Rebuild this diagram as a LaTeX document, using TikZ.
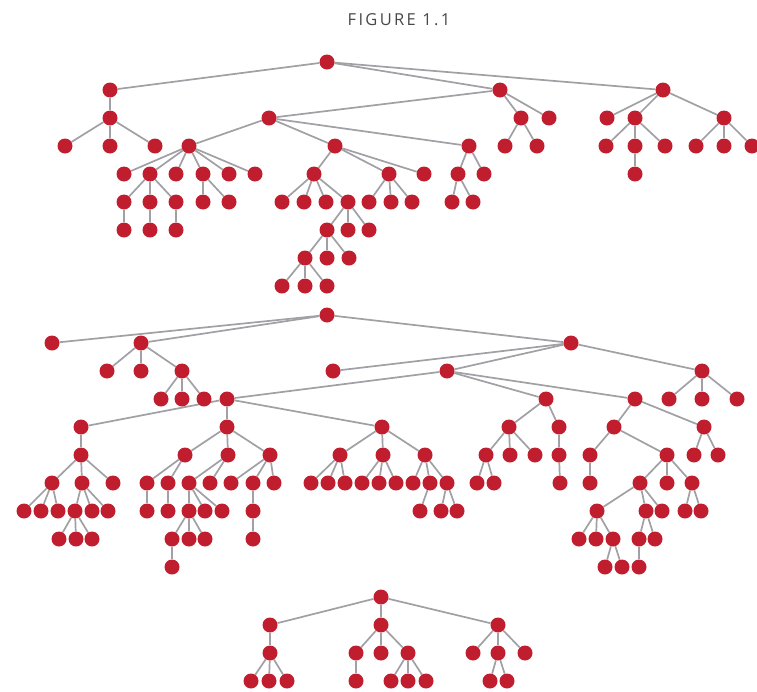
\documentclass[tikz,border=0pt]{standalone}
\usepackage{fontspec}
\newfontfamily\titlefont[LetterSpace=14]{Open Sans}
\usetikzlibrary{backgrounds}
\definecolor{dotred}{RGB}{192,30,46}
\definecolor{edgegray}{RGB}{160,160,165}
\definecolor{titlegray}{RGB}{72,72,72}
\tikzset{
  dot/.style={circle,fill=dotred,draw=none,inner sep=0pt,minimum size=15pt},
  edge/.style={draw=edgegray,line width=1.7pt},
  titlestyle/.style={font=\titlefont\fontsize{16.5}{19}\selectfont,text=titlegray,inner sep=0pt}
}
\begin{document}
\begin{tikzpicture}[x=1pt,y=-1pt]
\useasboundingbox (0,0) rectangle (757,691);
\node[titlestyle] (title) at (399,19.5) {FIGURE 1.1};
% ---------- tree 1 ----------
\foreach \n/\x/\y in {
 tr/327/62,
 ta/110/90, tb/500/90, tc/663/90,
 ta1/110/118, td/269/118, tb1/521/118, tb2/549/118, tc1/607/118, tc2/635/118, tc3/724/118,
 ta11/65/146, ta12/110/146, ta13/155/146, td1/189/146, td2/335/146, td3/469/146,
 tb11/505/146, tb12/537/146, tc21/606/146, tc22/635/146, tc23/665/146,
 tc31/696/146, tc32/724/146, tc33/752/146,
 td11/124/174, td12/150/174, td13/176/174, td14/203/174, td15/229/174, td16/255/174,
 td21/314/174, td22/389/174, td23/424/174, td31/458/174, td32/484/174, tc221/635/174,
 td121/124/202, td122/150/202, td123/176/202, td141/203/202, td142/229/202,
 td211/282/202, td212/304/202, td213/326/202, td214/348/202,
 td221/369/202, td222/391/202, td223/412/202, td311/452/202, td312/473/202,
 td1211/124/230, td1221/150/230, td1231/176/230,
 td2141/327/230, td2142/348/230, td2143/369/230,
 te1/305/258, te2/327/258, te3/349/258,
 te11/282/286, te12/305/286, te13/327/286}
  \node[dot] (\n) at (\x,\y) {};
% ---------- tree 2 ----------
\foreach \n/\x/\y in {
 us/327/315,
 us1/52/343, us2/141/343, us3/571/343,
 us21/107/371, us22/141/371, us23/182/371, us31/333/371, us32/447/371, us33/702/371,
 us231/161/399, us232/182/399, us233/204/399, uf/227/399, ug/546/399, uh/635/399,
 us331/669/399, us332/702/399, us333/737/399,
 uf1/81/427, uf2/227/427, uf3/382/427, ug1/509/427, ug2/559/427, uh1/614/427, uh2/704/427,
 uf11/81/455, uf21/185/455, uf22/228/455, uf23/270/455, uf31/340/455, uf32/383/455, uf33/425/455,
 ug11/486/455, ug12/510/455, ug13/535/455, ug21/559/455, uh11/590/455, uh12/667/455,
 uh21/694/455, uh22/718/455,
 uf111/52/483, uf112/82/483, uf113/113/483, uf211/147/483, uf212/168/483,
 uf221/189/483, uf222/210/483, uf231/231/483, uf232/253/483, uf233/274/483,
 uf311/311/483, uf312/328/483, uf313/345/483, uf321/362/483, uf322/379/483, uf323/396/483,
 uf331/413/483, uf332/430/483, uf333/447/483, ug111/477/483, ug112/494/483, ug211/560/483,
 uh111/590/483, uh121/640/483, uh122/667/483, uh123/692/483,
 uf1111/24/511, uf1112/41/511, uf1113/58/511, uf1121/75/511, uf1122/92/511, uf1123/108/511,
 uf2111/147/511, uf2121/168/511, uf2211/189/511, uf2212/205/511, uf2213/222/511,
 uf2321/253/511, uf3321/420/511, uf3331/441/511, uf3332/457/511,
 uh1211/597/511, uh1212/646/511, uh1213/662/511, uh1231/685/511, uh1232/701/511,
 uk1/59/539, uk2/76/539, uk3/92/539, um1/172/539, um2/189/539, um3/205/539,
 uf23211/253/539, up1/579/539, up2/596/539, up3/613/539, uq1/639/539, uq2/655/539,
 um11/172/567, up31/605/567, up32/622/567, uq11/639/567}
  \node[dot] (\n) at (\x,\y) {};
% ---------- tree 3 ----------
\foreach \n/\x/\y in {
 vr/381/597,
 v1/270/625, v2/381/625, v3/498/625,
 v11/270/653, v21/356/653, v22/381/653, v23/408/653, v31/473/653, v32/498/653, v33/525/653,
 v111/251/681, v112/269/681, v113/287/681, v211/356/681,
 v231/391/681, v232/408/681, v233/426/681, v321/490/681, v322/507/681}
  \node[dot] (\n) at (\x,\y) {};
% ---------- edges ----------
\begin{pgfonlayer}{background}
\foreach \a/\b in {
 tr/ta, tr/tb, tr/tc, ta/ta1, ta1/ta11, ta1/ta12, ta1/ta13,
 tb/td, tb/tb1, tb/tb2, tb1/tb11, tb1/tb12,
 tc/tc1, tc/tc2, tc/tc3, tc2/tc21, tc2/tc22, tc2/tc23, tc22/tc221,
 tc3/tc31, tc3/tc32, tc3/tc33,
 td/td1, td/td2, td/td3,
 td1/td11, td1/td12, td1/td13, td1/td14, td1/td15, td1/td16,
 td12/td121, td12/td122, td12/td123, td121/td1211, td122/td1221, td123/td1231,
 td14/td141, td14/td142,
 td2/td21, td2/td22, td2/td23,
 td21/td211, td21/td212, td21/td213, td21/td214,
 td22/td221, td22/td222, td22/td223,
 td214/td2141, td214/td2142, td214/td2143,
 td2141/te1, td2141/te2, td2141/te3, te1/te11, te1/te12, te1/te13,
 td3/td31, td3/td32, td31/td311, td31/td312,
 us/us1, us/us2, us/us3, us2/us21, us2/us22, us2/us23,
 us23/us231, us23/us232, us23/us233,
 us3/us31, us3/us32, us3/us33, us33/us331, us33/us332, us33/us333,
 us32/uf, us32/ug, us32/uh,
 uf/uf1, uf/uf2, uf/uf3, uf1/uf11, uf11/uf111, uf11/uf112, uf11/uf113,
 uf111/uf1111, uf111/uf1112, uf111/uf1113, uf112/uf1121, uf112/uf1122, uf112/uf1123,
 uf1121/uk1, uf1121/uk2, uf1121/uk3,
 uf2/uf21, uf2/uf22, uf2/uf23, uf21/uf211, uf21/uf212, uf211/uf2111, uf212/uf2121,
 uf22/uf221, uf22/uf222, uf221/uf2211, uf221/uf2212, uf221/uf2213,
 uf2211/um1, uf2211/um2, uf2211/um3, um1/um11,
 uf23/uf231, uf23/uf232, uf23/uf233, uf232/uf2321, uf2321/uf23211,
 uf3/uf31, uf3/uf32, uf3/uf33, uf31/uf311, uf31/uf312, uf31/uf313,
 uf32/uf321, uf32/uf322, uf32/uf323, uf33/uf331, uf33/uf332, uf33/uf333,
 uf332/uf3321, uf333/uf3331, uf333/uf3332,
 ug/ug1, ug/ug2, ug1/ug11, ug1/ug12, ug1/ug13, ug11/ug111, ug11/ug112,
 ug2/ug21, ug21/ug211,
 uh/uh1, uh/uh2, uh1/uh11, uh1/uh12, uh11/uh111,
 uh12/uh121, uh12/uh122, uh12/uh123,
 uh121/uh1211, uh121/uh1212, uh121/uh1213, uh123/uh1231, uh123/uh1232,
 uh1211/up1, uh1211/up2, uh1211/up3, up3/up31, up3/up32,
 uh1212/uq1, uh1212/uq2, uq1/uq11,
 uh2/uh21, uh2/uh22,
 vr/v1, vr/v2, vr/v3, v1/v11, v11/v111, v11/v112, v11/v113,
 v2/v21, v2/v22, v2/v23, v21/v211, v23/v231, v23/v232, v23/v233,
 v3/v31, v3/v32, v3/v33, v32/v321, v32/v322}
  \draw[edge] (\a) -- (\b);
\end{pgfonlayer}
\end{tikzpicture}
\end{document}
